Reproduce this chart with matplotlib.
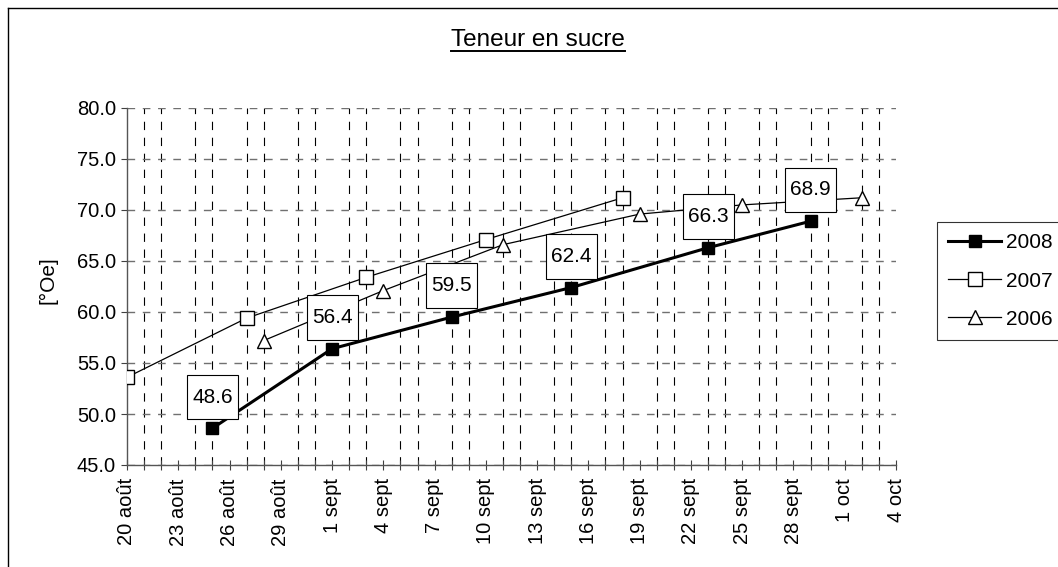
import pandas as pd
import matplotlib
matplotlib.use("Agg")
import matplotlib.pyplot as plt
import matplotlib.dates as mdates
from matplotlib.path import Path
from matplotlib.lines import Line2D
from matplotlib.ticker import FixedLocator, FuncFormatter, MultipleLocator

plt.rcParams['font.family'] = ['Liberation Sans', 'DejaVu Sans']
plt.rcParams['lines.scale_dashes'] = False

# harvest dates (all put on the same calendar year) and sugar content in °Oe
dates_2008 = ['08-25', '09-01', '09-08', '09-15', '09-23', '09-29']
sucre_2008 = [48.6, 56.4, 59.5, 62.4, 66.3, 68.9]

dates_2007 = ['08-20', '08-27', '09-03', '09-10', '09-18']
sucre_2007 = [53.6, 59.4, 63.4, 67.1, 71.2]

dates_2006 = ['08-28', '09-04', '09-11', '09-19', '09-25', '10-02']
sucre_2006 = [57.2, 62.1, 66.6, 69.6, 70.5, 71.2]

mois = {8: 'août', 9: 'sept', 10: 'oct'}


def to_dates(days):
    return pd.to_datetime(['2008-' + d for d in days])


# label box: more vertical padding than horizontal, like the Excel labels
def label_box(x0, y0, width, height, mutation_size):
    px, py = 0.25 * mutation_size, 0.62 * mutation_size
    return Path([(x0 - px, y0 - py), (x0 + width + px, y0 - py),
                 (x0 + width + px, y0 + height + py), (x0 - px, y0 + height + py),
                 (x0 - px, y0 - py)], closed=True)


fig = plt.figure(figsize=(10.58, 5.67), dpi=100)
ax = fig.add_axes([127 / 1058, 1 - 465 / 567, (896 - 127) / 1058, 357 / 567])

d08, d07, d06 = to_dates(dates_2008), to_dates(dates_2007), to_dates(dates_2006)

ax.plot(d08, sucre_2008, color='black', lw=2.2, marker='s', ms=8.6,
        mfc='black', mec='black', label='2008', zorder=5)
ax.plot(d07, sucre_2007, color='black', lw=0.9, marker='s', ms=10,
        mfc='white', mec='black', mew=1, label='2007', zorder=4)
ax.plot(d06, sucre_2006, color='black', lw=0.9, marker='^', ms=10.5,
        mfc='white', mec='black', mew=1, label='2006', zorder=4)

for d, v in zip(d08, sucre_2008):
    ax.annotate(f'{v:.1f}', (mdates.date2num(d), v), xytext=(0, 22.5),
                textcoords='offset points', ha='center', va='center',
                fontsize=15, zorder=6,
                bbox=dict(boxstyle=label_box, fc='white', ec='black', lw=0.8))

# axes range and ticks
start = pd.Timestamp('2008-08-20')
end = pd.Timestamp('2008-10-04')
ax.set_xlim(mdates.date2num(start), mdates.date2num(end))
ax.set_ylim(45, 80)

majors = mdates.date2num(pd.date_range(start, end, freq='3D'))
minors = mdates.date2num(pd.date_range(start, end, freq='D'))
ax.xaxis.set_major_locator(FixedLocator(majors))
ax.xaxis.set_minor_locator(FixedLocator(minors))
ax.xaxis.set_major_formatter(FuncFormatter(
    lambda x, pos: f'{mdates.num2date(x).day} {mois[mdates.num2date(x).month]}'))
ax.yaxis.set_major_locator(MultipleLocator(5))
ax.yaxis.set_major_formatter(FuncFormatter(lambda y, pos: f'{y:.1f}'))

ax.tick_params(axis='x', which='both', direction='inout', length=7, width=0.8,
               color='#404040', labelsize=14.5, rotation=90, pad=6)
ax.tick_params(axis='y', direction='out', length=4.5, width=0.8,
               color='#404040', labelsize=14.5, pad=3.5)

ax.grid(True, axis='x', which='minor', color='black', lw=0.8,
        linestyle=(0, (6, 5.5)))
ax.grid(True, axis='y', which='major', color='#707070', lw=1,
        linestyle=(0, (5.5, 5.5)))
ax.set_axisbelow(True)

for s in ['top', 'right']:
    ax.spines[s].set_visible(False)
for s in ['left', 'bottom']:
    ax.spines[s].set_color('#555555')
    ax.spines[s].set_linewidth(1)

fig.text(48 / 1058, 1 - 280 / 567, '[°Oe]', rotation=90, ha='center',
         va='center', fontsize=15)

title = fig.text(538 / 1058, 1 - 45.5 / 567, 'Teneur en sucre', ha='center',
                 va='baseline', fontsize=17.5)

leg = ax.legend(loc='upper left', bbox_to_anchor=(937 / 1058, 1 - 222 / 567),
                bbox_transform=fig.transFigure, fontsize=15, frameon=True,
                fancybox=False, edgecolor='black', borderaxespad=0,
                borderpad=0.55, handlelength=2.5, handletextpad=0.25,
                labelspacing=0.92)
leg.get_frame().set_linewidth(0.8)

# outer chart border (only top and left visible in the picture)
fig.add_artist(Line2D([7.5 / 1058, 1], [1 - 7.5 / 567] * 2, color='black', lw=1))
fig.add_artist(Line2D([7.5 / 1058] * 2, [0, 1 - 7.5 / 567], color='black', lw=1))

# underline the title
fig.canvas.draw()
bb = title.get_window_extent().transformed(fig.transFigure.inverted())
fig.add_artist(Line2D([bb.x0, bb.x1], [1 - 50.5 / 567] * 2, color='black', lw=1.4))

fig.savefig('out.png', dpi=100)
